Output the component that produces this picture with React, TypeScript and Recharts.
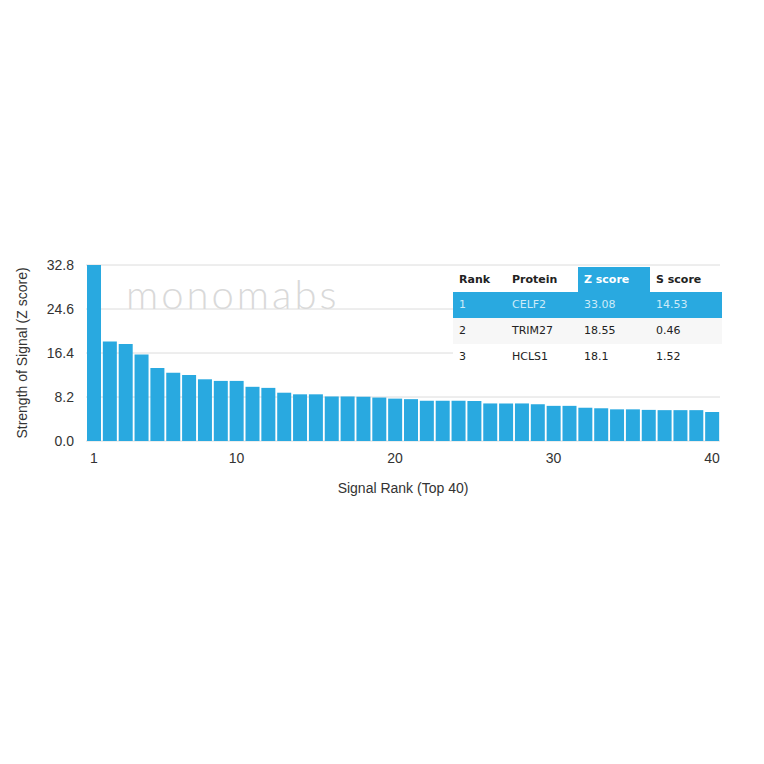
import { Bar, BarChart, CartesianGrid, XAxis, YAxis } from "recharts";

const ranks = Array.from({ length: 40 }, (_, i) => i + 1);
const zScores = [
  33.08, 18.55, 18.1, 16.1, 13.6, 12.7, 12.3, 11.5, 11.2, 11.2,
  10.1, 9.9, 9.0, 8.7, 8.7, 8.3, 8.3, 8.25, 8.1, 7.9,
  7.8, 7.5, 7.5, 7.5, 7.45, 7.0, 7.0, 7.0, 6.85, 6.55,
  6.55, 6.2, 6.1, 5.9, 5.9, 5.8, 5.75, 5.75, 5.75, 5.4,
];
const yTicks = [0, 8.2, 16.4, 24.6, 32.8];
const xTicks = [1, 10, 20, 30, 40];

const tableHeader = ["Rank", "Protein", "Z score", "S score"];
const tableRows = [
  ["1", "CELF2", "33.08", "14.53"],
  ["2", "TRIM27", "18.55", "0.46"],
  ["3", "HCLS1", "18.1", "1.52"],
];

const data = ranks.map((rank, i) => ({ rank, z: zScores[i] }));

const BLUE = "#29a9e0";
const FONT = "'Liberation Sans', Arial, sans-serif";
const tickFont = { fontSize: 14, fill: "#333", fontFamily: FONT };
const colX = [6, 59, 131, 203];
const colW = [53, 72, 72, 72];

function YLabel() {
  return (
    <text
      x={22}
      y={353}
      transform="rotate(-90, 22, 353)"
      textAnchor="middle"
      dominantBaseline="central"
      fontSize={14}
      fill="#333"
      fontFamily={FONT}
    >
      Strength of Signal (Z score)
    </text>
  );
}

export default function App() {
  return (
    <div style={{ position: "absolute", left: 0, top: 0, width: 764, height: 764, background: "#fff" }}>
      <BarChart
        width={764}
        height={764}
        data={data}
        margin={{ top: 265, right: 44, bottom: 293, left: 26 }}
        barCategoryGap={1}
      >
        <CartesianGrid vertical={false} stroke="#dcdcdc" />
        <XAxis
          dataKey="rank"
          ticks={xTicks}
          interval={0}
          tickLine={false}
          axisLine={false}
          tickSize={0}
          tickMargin={12}
          tick={tickFont}
          height={30}
          label={{
            value: "Signal Rank (Top 40)",
            position: "insideBottom",
            offset: -22,
            fontSize: 14,
            fill: "#333",
            fontFamily: FONT,
          }}
        />
        <YAxis
          domain={[0, 32.8]}
          ticks={yTicks}
          allowDataOverflow
          width={60}
          tickLine={false}
          axisLine={false}
          tickSize={0}
          tickMargin={12}
          tick={tickFont}
          tickFormatter={(v: number) => v.toFixed(1)}
          label={<YLabel />}
        />
        <Bar dataKey="z" fill={BLUE} isAnimationActive={false} />
      </BarChart>

      <div
        style={{
          position: "absolute",
          left: 126,
          top: 270,
          fontFamily: "Lato, sans-serif",
          fontWeight: 300,
          fontSize: 40,
          letterSpacing: 3,
          color: "#d9d9d9",
        }}
      >
        monomabs
      </div>

      <div
        style={{
          position: "absolute",
          left: 453,
          top: 267,
          width: 269,
          fontFamily: "'DejaVu Sans', sans-serif",
          fontSize: 11,
        }}
      >
        <div style={{ position: "relative", height: 25, background: "#fff" }}>
          {tableHeader.map((h, i) => (
            <div
              key={h}
              style={{
                position: "absolute",
                left: colX[i] - 6,
                width: colW[i],
                top: 0,
                height: 25,
                lineHeight: "25px",
                paddingLeft: 6,
                boxSizing: "border-box",
                fontWeight: "bold",
                color: i === 2 ? "#fff" : "#222",
                background: i === 2 ? BLUE : "transparent",
              }}
            >
              {h}
            </div>
          ))}
        </div>
        {tableRows.map((row, r) => (
          <div
            key={r}
            style={{
              position: "relative",
              height: 26,
              background: r === 0 ? BLUE : r === 1 ? "#f7f7f7" : "#fff",
            }}
          >
            {row.map((c, i) => (
              <div
                key={i}
                style={{
                  position: "absolute",
                  left: colX[i],
                  top: 0,
                  height: 26,
                  lineHeight: "26px",
                  color: r === 0 ? "#cdebf8" : "#222",
                }}
              >
                {c}
              </div>
            ))}
          </div>
        ))}
      </div>
    </div>
  );
}
